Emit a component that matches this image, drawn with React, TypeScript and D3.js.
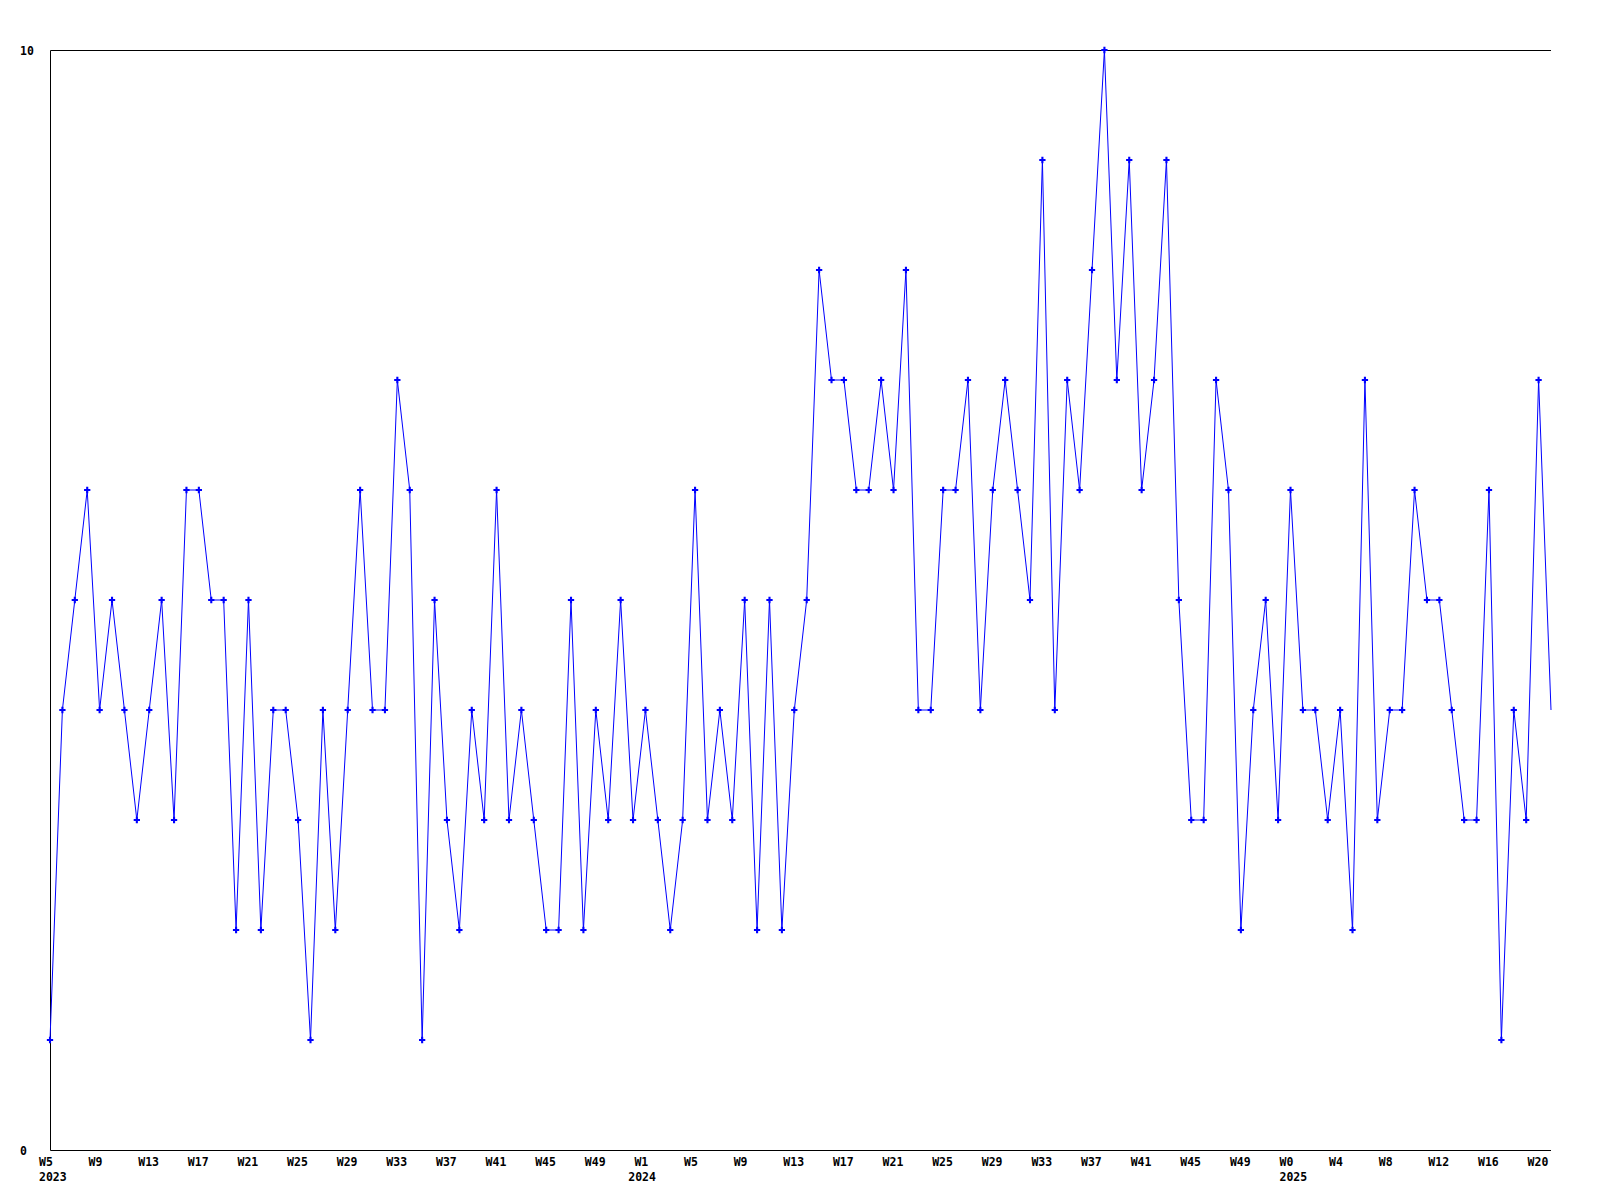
import * as React from "react";
import * as d3 from "d3";

// weekly counts, W5 2023 .. W21 2025
const VALUES: number[] = [
  1, 4, 5, 6, 4, 5, 4, 3, 4, 5,
  3, 6, 6, 5, 5, 2, 5, 2, 4, 4,
  3, 1, 4, 2, 4, 6, 4, 4, 7, 6,
  1, 5, 3, 2, 4, 3, 6, 3, 4, 3,
  2, 2, 5, 2, 4, 3, 5, 3, 4, 3,
  2, 3, 6, 3, 4, 3, 5, 2, 5, 2,
  4, 5, 8, 7, 7, 6, 6, 7, 6, 8,
  4, 4, 6, 6, 7, 4, 6, 7, 6, 5,
  9, 4, 7, 6, 8, 10, 7, 9, 6, 7,
  9, 5, 3, 3, 7, 6, 2, 4, 5, 3,
  6, 4, 4, 3, 4, 2, 7, 3, 4, 4,
  6, 5, 5, 4, 3, 3, 6, 1, 4, 3,
  7, 4,
];

const YEARS = ["2023", "2024", "2025"];
const FIRST_WEEK = [5, 1, 0];
const LAST_WEEK = [52, 52, 21];
// where the year label sits, in week steps from the first point
const YEAR_AT = [0, 47.5, 100];

const Y_TICKS = [0, 10];
const TICK_EVERY = 4;

const WEEK_LABELS: string[] = YEARS.flatMap((year, k) =>
  d3.range(FIRST_WEEK[k], LAST_WEEK[k] + 1).map((w) => "W" + w)
);

const FONT = "'DejaVu Sans Mono', monospace";

export default function App() {
  const [width, height] = [1600, 1200];
  const margin = { top: 50, right: 49, bottom: 50, left: 50 };

  const x = d3
    .scaleLinear()
    .domain([0, VALUES.length - 1])
    .range([margin.left, width - margin.right]);
  const y = d3
    .scaleLinear()
    .domain([0, 10])
    .range([height - margin.bottom, margin.top]);

  const line = d3
    .line<number>()
    .x((d, i) => x(i))
    .y((d) => y(d));

  const cross = d3.symbol().type(d3.symbolCross).size(22)() || "";

  const x0 = Math.round(x(0)) + 0.5;
  const x1 = Math.round(x(VALUES.length - 1));
  const yTop = Math.round(y(10)) + 0.5;
  const yBot = Math.round(y(0)) + 0.5;

  return (
    <svg
      width={width}
      height={height}
      style={{ position: "absolute", left: 0, top: 0, background: "#fff" }}
    >
      <g stroke="#000" strokeWidth={1} fill="none">
        <line x1={x0} x2={x1} y1={yTop} y2={yTop} />
        <line x1={x0} x2={x1} y1={yBot} y2={yBot} />
        <line x1={x0} x2={x0} y1={yTop} y2={yBot} />
      </g>

      <g fontFamily={FONT} fontWeight="bold" fontSize={11.5} fill="#000">
        {Y_TICKS.map((t) => (
          <text key={t} x={20} y={y(t) + 4.5}>
            {t}
          </text>
        ))}
        {WEEK_LABELS.map((w, i) =>
          i % TICK_EVERY === 0 ? (
            <text key={"w" + i} x={x(i) - 11} y={height - margin.bottom + 16}>
              {w}
            </text>
          ) : null
        )}
        {YEARS.map((yr, k) => (
          <text key={yr} x={x(YEAR_AT[k]) - 11} y={height - margin.bottom + 31}>
            {yr}
          </text>
        ))}
      </g>

      <path d={line(VALUES) || ""} fill="none" stroke="#0000ff" strokeWidth={1} />
      <g fill="#0000ff">
        {VALUES.slice(0, -1).map((v, i) => (
          <path key={i} d={cross} transform={`translate(${x(i)},${y(v)})`} />
        ))}
      </g>
    </svg>
  );
}
